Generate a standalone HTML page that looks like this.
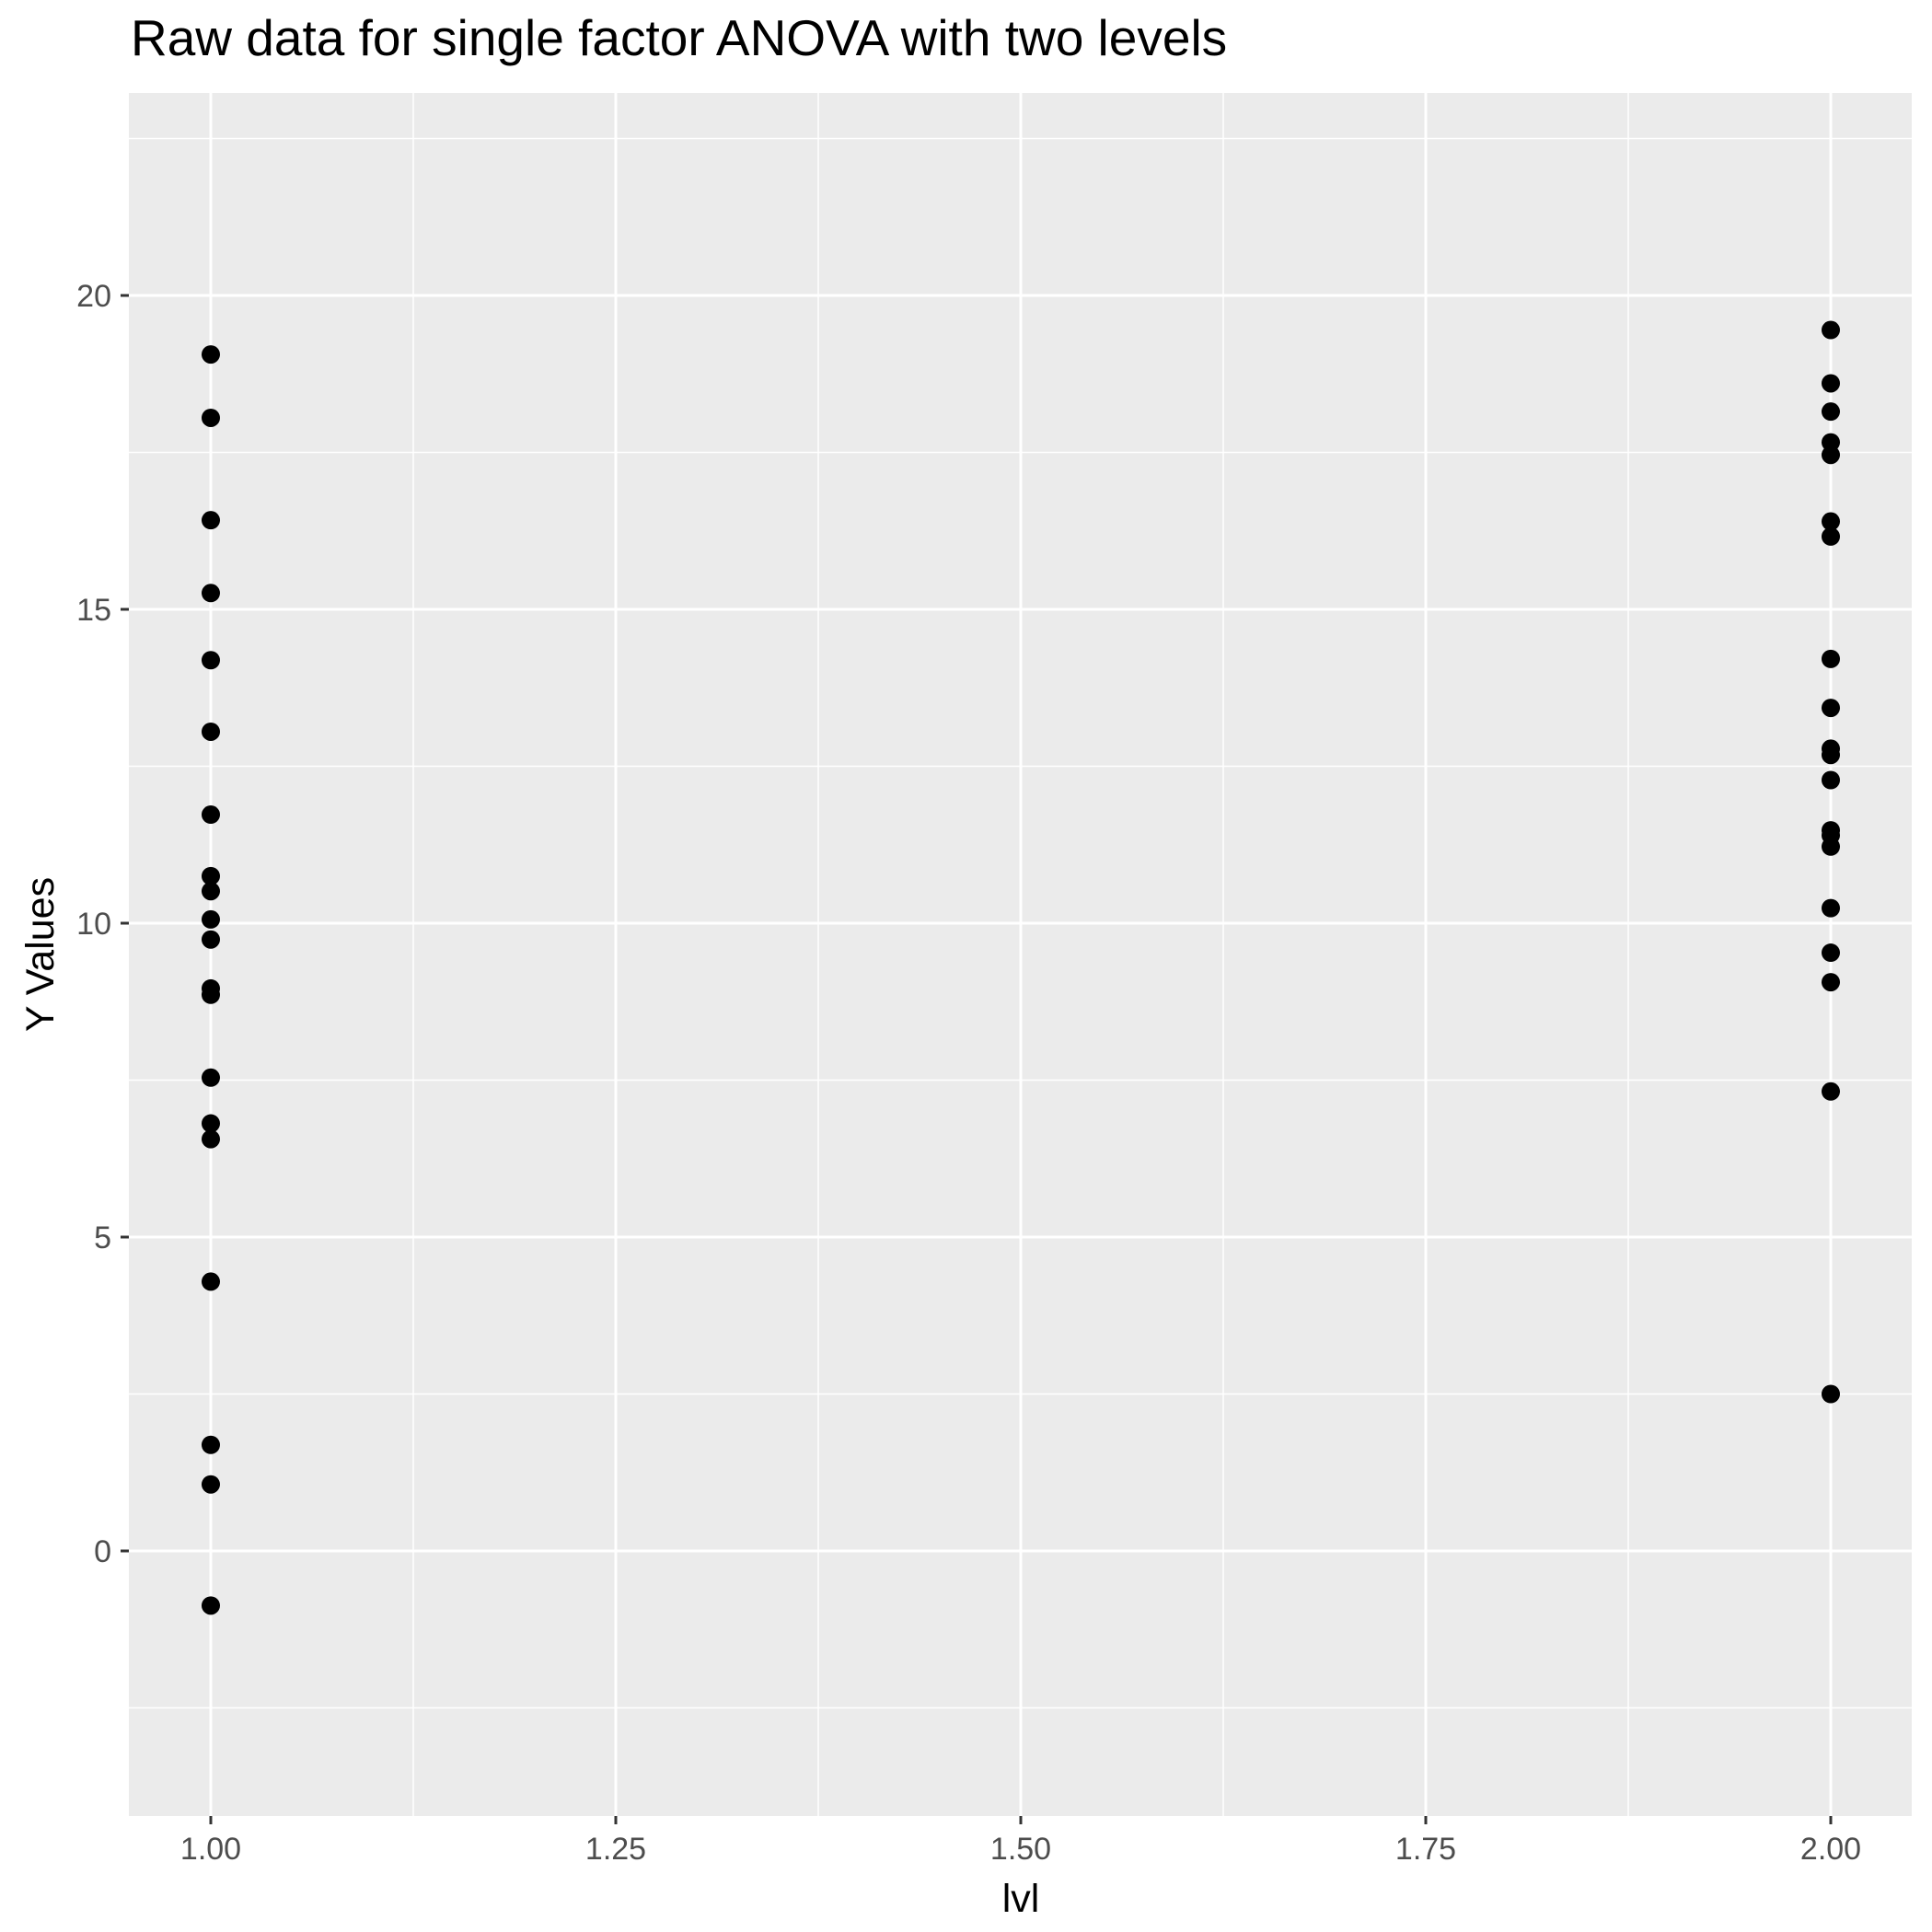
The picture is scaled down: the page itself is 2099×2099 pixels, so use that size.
<!DOCTYPE html>
<html><head><meta charset="utf-8"><style>
html,body{margin:0;padding:0;background:#fff;}
svg{display:block;font-family:"Liberation Sans",Arial,sans-serif;}
</style></head><body>
<svg id="chart" width="2099" height="2099" viewBox="0 0 2099 2099" xmlns="http://www.w3.org/2000/svg">
<rect width="2099" height="2099" fill="#fff"/>
<text x="142" y="60" font-size="55" fill="#000">Raw data for single factor ANOVA with two levels</text>
<g id="panel"></g>
<text x="1109" y="2077" font-size="43" text-anchor="middle" fill="#000">lvl</text>
<text x="0" y="0" font-size="43" text-anchor="middle" fill="#000" transform="translate(58,1037) rotate(-90)">Y Values</text>
</svg>
<script>
const group1Values = [19.06,18.05,16.42,15.26,14.19,13.05,11.73,10.75,10.51,10.06,9.74,8.96,8.86,7.54,6.81,6.56,4.29,1.69,1.06,-0.87];
const group2Values = [19.45,18.60,18.15,17.66,17.46,16.40,16.16,14.21,13.43,12.78,12.68,12.28,11.48,11.40,11.22,10.24,9.53,9.06,7.32,2.50];
const groupLevels = [1, 2];
const xTicks = [1.00,1.25,1.50,1.75,2.00];
const xTickLabels = ["1.00","1.25","1.50","1.75","2.00"];
const yTicks = [0,5,10,15,20];
const yTickLabels = ["0","5","10","15","20"];
const xMinor = [1.125,1.375,1.625,1.875];
const yMinor = [-2.5,2.5,7.5,12.5,17.5,22.5];

const NS = "http://www.w3.org/2000/svg";
const PL=140, PR=2077, PT=101, PB=1973;
const xS = v => 229 + (v-1)*1760;
const yS = v => 1685 - v*68.2;
const svg = document.getElementById('chart');
const panel = document.getElementById('panel');
function mk(tag, attrs, parent){const e=document.createElementNS(NS,tag);for(const k in attrs)e.setAttribute(k,attrs[k]);(parent||panel).appendChild(e);return e;}

const bg = mk('rect',{x:PL,y:PT,width:PR-PL,height:PB-PT,fill:'#ebebeb'});



yMinor.forEach(v=>{const l=mk('line',{x1:PL,x2:PR,y1:yS(v),y2:yS(v),stroke:'#fff','stroke-width':1.5});

});
xMinor.forEach(v=>{const l=mk('line',{x1:xS(v),x2:xS(v),y1:PT,y2:PB,stroke:'#fff','stroke-width':1.5});

});
yTicks.forEach((v,i)=>{
 const l=mk('line',{x1:PL,x2:PR,y1:yS(v),y2:yS(v),stroke:'#fff','stroke-width':3});
 
 
 const t=mk('line',{x1:PL-9,x2:PL,y1:yS(v),y2:yS(v),stroke:'#333','stroke-width':3},svg);
 
 
 const tx=mk('text',{x:PL-19,y:yS(v)+12,'font-size':34,fill:'#4d4d4d','text-anchor':'end'},svg);
 tx.textContent=yTickLabels[i];
 
 
});
xTicks.forEach((v,i)=>{
 const l=mk('line',{x1:xS(v),x2:xS(v),y1:PT,y2:PB,stroke:'#fff','stroke-width':3});
 
 
 const t=mk('line',{x1:xS(v),x2:xS(v),y1:PB,y2:PB+9,stroke:'#333','stroke-width':3},svg);
 
 
 const tx=mk('text',{x:xS(v),y:2020,'font-size':34,fill:'#4d4d4d','text-anchor':'middle'},svg);
 tx.textContent=xTickLabels[i];
 
 
});
[group1Values, group2Values].forEach((vals,gi)=>{
 vals.forEach(v=>{
  const c=mk('circle',{cx:xS(groupLevels[gi]),cy:yS(v),r:10,fill:'#000'});
  
  
 });
});
</script>
</body></html>
